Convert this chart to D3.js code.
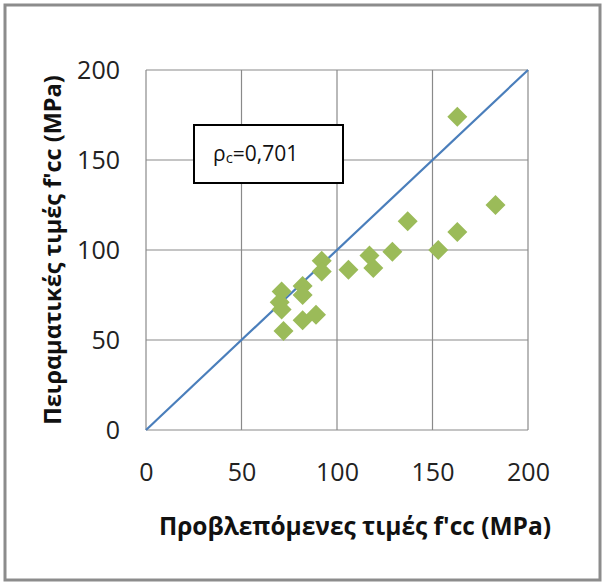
<!DOCTYPE html>
<html>
<head>
<meta charset="utf-8">
<script src="https://cdn.jsdelivr.net/npm/d3@7"></script>
<style>
  html, body { margin: 0; padding: 0; background: #fff; }
  svg { display: block; font-family: "Open Sans", "Noto Sans", sans-serif; }
</style>
</head>
<body>
<svg id="chart" width="605" height="584"></svg>
<script>
// Predicted vs experimental confined strength f'cc (MPa)
const predicted    = [163, 183, 163, 153, 137, 129, 119, 117, 106, 92, 92, 82, 82, 82, 89, 71, 70, 71, 72];
const experimental = [174, 125, 110, 100, 116, 99, 90, 97, 89, 94, 88, 80, 75, 61, 64, 77, 71, 67, 55];
const xTicks = [0, 50, 100, 150, 200];
const yTicks = [0, 50, 100, 150, 200];
const domainMax = 200;
const corrLabel = "0,701";

const svg = d3.select("#chart");

// outer frame
svg.append("rect")
  .attr("x", 5).attr("y", 5).attr("width", 595).attr("height", 575)
  .attr("fill", "#fff").attr("stroke", "#8c8c8c").attr("stroke-width", 3);

const plot = { left: 146, right: 528, top: 70, bottom: 430 };
const x = d3.scaleLinear().domain([0, domainMax]).range([plot.left, plot.right]);
const y = d3.scaleLinear().domain([0, domainMax]).range([plot.bottom, plot.top]);

// gridlines
const grid = svg.append("g").attr("stroke", "#8a8a8a").attr("stroke-width", 1.2);
grid.selectAll("line.v").data(xTicks).join("line")
  .attr("x1", d => x(d)).attr("x2", d => x(d))
  .attr("y1", plot.top).attr("y2", plot.bottom);
grid.selectAll("line.h").data(yTicks).join("line")
  .attr("x1", plot.left).attr("x2", plot.right)
  .attr("y1", d => y(d)).attr("y2", d => y(d));

// axes (labels only, lines drawn by grid)
const xAxis = svg.append("g").attr("transform", `translate(0,${plot.bottom})`)
  .call(d3.axisBottom(x).tickValues(xTicks).tickSize(0).tickPadding(33));
const yAxis = svg.append("g").attr("transform", `translate(${plot.left},0)`)
  .call(d3.axisLeft(y).tickValues(yTicks).tickSize(0).tickPadding(26));
[xAxis, yAxis].forEach(a => {
  a.select(".domain").remove();
  a.selectAll("text").attr("font-size", 25).attr("fill", "#222")
    .attr("font-family", "'Open Sans', 'Noto Sans', sans-serif");
});

// 1:1 reference line
svg.append("line")
  .attr("x1", x(0)).attr("y1", y(0))
  .attr("x2", x(domainMax)).attr("y2", y(domainMax))
  .attr("stroke", "#4a7ebb").attr("stroke-width", 2.2);

// data points as diamonds
const diamond = d3.symbol().type(d3.symbolSquare).size(200);
svg.append("g").selectAll("path")
  .data(predicted.map((p, i) => [p, experimental[i]]))
  .join("path")
  .attr("d", diamond)
  .attr("transform", d => `translate(${x(d[0])},${y(d[1])}) rotate(45)`)
  .attr("fill", "#9bbb59");

// correlation box
svg.append("rect")
  .attr("x", 194).attr("y", 125).attr("width", 149).attr("height", 58)
  .attr("fill", "#fff").attr("stroke", "#000").attr("stroke-width", 2);
const t = svg.append("text").attr("x", 213).attr("y", 161)
  .attr("font-size", 21).attr("fill", "#111");
t.append("tspan").text("ρ");
t.append("tspan").attr("font-size", 15).attr("dy", 2).text("c");
t.append("tspan").attr("dy", -2).text("=" + corrLabel);

// axis titles
svg.append("text")
  .attr("x", 355).attr("y", 535).attr("text-anchor", "middle")
  .attr("font-size", 24.5).attr("font-weight", "bold").attr("fill", "#111")
  .text("Προβλεπόμενες τιμές f'cc (MPa)");
svg.append("text")
  .attr("transform", "translate(61,250) rotate(-90)").attr("text-anchor", "middle")
  .attr("font-size", 23.5).attr("font-weight", "bold").attr("fill", "#111")
  .text("Πειραματικές τιμές f'cc (MPa)");
</script>
</body>
</html>
